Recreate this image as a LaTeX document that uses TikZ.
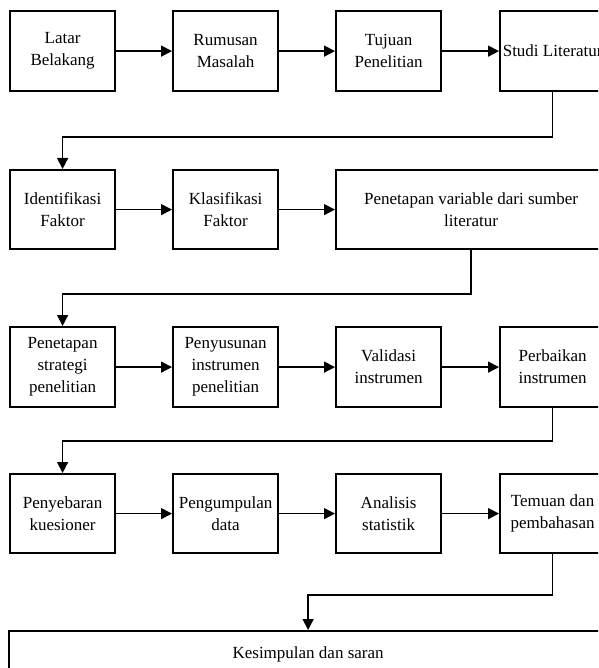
\documentclass[tikz,border=0pt]{standalone}
\usepackage{fontspec}
\setmainfont{Liberation Serif}
\usetikzlibrary{arrows.meta,positioning}

\begin{document}
\begin{tikzpicture}[x=1pt,y=-1pt,
        box/.style={draw,line width=2.2pt,anchor=north west,align=center,inner sep=2pt,minimum width=105pt,minimum height=80pt,font=\fontsize{17}{22}\selectfont},
        arr/.style={line width=1.5pt,-{Triangle[length=11pt,width=11pt]}},
        lnk/.style={line width=1.5pt,-{Triangle[length=11pt,width=11pt]},rounded corners=0pt}]
        \useasboundingbox (0,0) rectangle (598,668);
        \clip (0,0) rectangle (598,668);
        \node[box] (latar)    at (9,10)   {Latar\\Belakang};
        \node[box] (rumusan)  at (172,10) {Rumusan\\Masalah};
        \node[box] (tujuan)   at (335,10) {Tujuan\\Penelitian};
        \node[box] (studi)    at (499,10) {Studi Literatur};
        \node[box,minimum height=79pt] (identif)  at (9,169)   {Identifikasi\\Faktor};
        \node[box,minimum height=79pt] (klasif)   at (172,169) {Klasifikasi\\Faktor};
        \node[box,minimum height=79pt,minimum width=270pt] (variabel) at (335,169) {Penetapan variable dari sumber\\literatur};
        \node[box] (strategi)   at (9,326)   {Penetapan\\strategi\\penelitian};
        \node[box] (penyusunan) at (172,326) {Penyusunan\\instrumen\\penelitian};
        \node[box] (validasi)   at (335,326) {Validasi\\instrumen};
        \node[box] (perbaikan)  at (499,326) {Perbaikan\\instrumen};
        \node[box,minimum height=79pt] (penyebaran)  at (9,473)   {Penyebaran\\kuesioner};
        \node[box,minimum height=79pt] (pengumpulan) at (172,473) {Pengumpulan\\data};
        \node[box,minimum height=79pt] (analisis)    at (335,473) {Analisis\\statistik};
        \node[box,minimum height=79pt] (temuan)      at (499,473) {Temuan dan\\pembahasan};
        \node[box,minimum width=598pt,minimum height=0pt,inner ysep=14pt,text height=13pt,text depth=60pt] (kesimpulan) at (8,630) {Kesimpulan dan saran};
        \draw[arr] (latar) -- (rumusan);
        \draw[arr] (rumusan) -- (tujuan);
        \draw[arr] (tujuan) -- (studi);
        \draw[arr] (identif) -- (klasif);
        \draw[arr] (klasif) -- (variabel);
        \draw[arr] (strategi) -- (penyusunan);
        \draw[arr] (penyusunan) -- (validasi);
        \draw[arr] (validasi) -- (perbaikan);
        \draw[arr] (penyebaran) -- (pengumpulan);
        \draw[arr] (pengumpulan) -- (analisis);
        \draw[arr] (analisis) -- (temuan);
        \draw[lnk] (studi.south) -- ++(0,45) -| (identif.north);
        \draw[lnk] (variabel.south) -- ++(0,44) -| (strategi.north);
        \draw[lnk] (perbaikan.south) -- ++(0,33) -| (penyebaran.north);
        \draw[lnk] (temuan.south) -- ++(0,41) -| (kesimpulan.north);
\end{tikzpicture}
\end{document}
